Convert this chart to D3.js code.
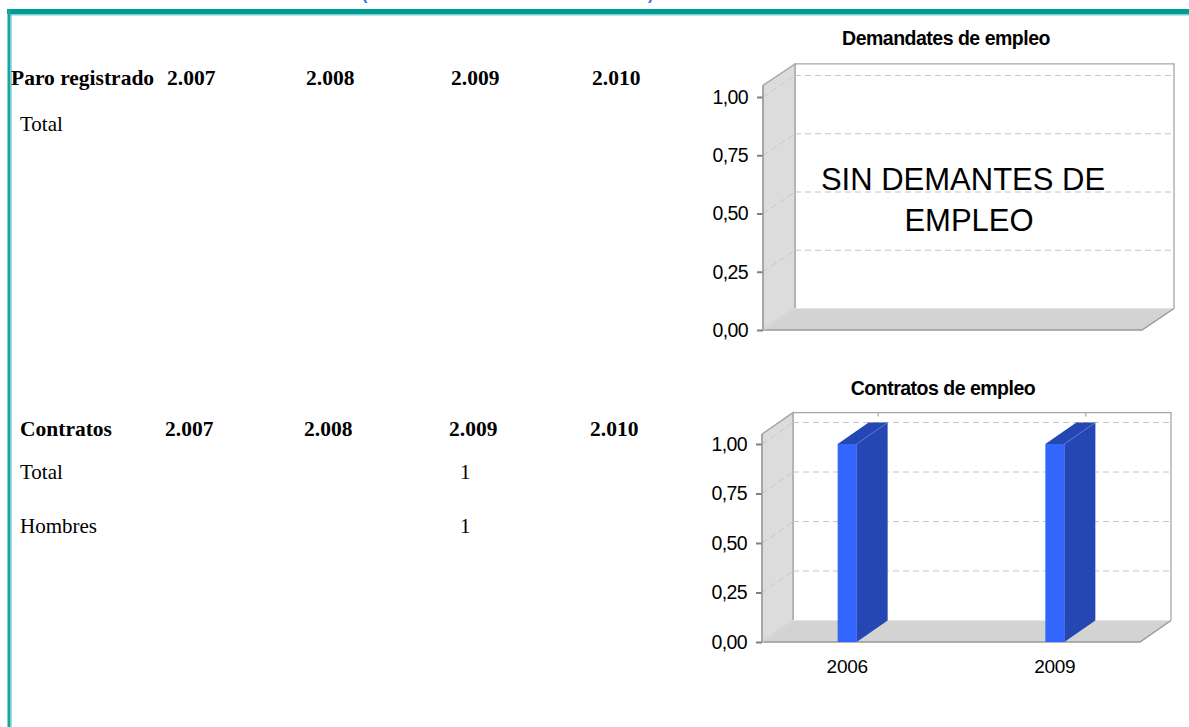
<!DOCTYPE html>
<html>
<head>
<meta charset="utf-8">
<script src="https://cdn.jsdelivr.net/npm/d3@7/dist/d3.min.js"></script>
<style>
  html, body { margin: 0; padding: 0; background: #fff; }
  svg { display: block; }
  .serif { font-family: "Liberation Serif", "Times New Roman", serif; }
  .sans { font-family: "Liberation Sans", Arial, sans-serif; }
</style>
</head>
<body>
<svg id="page" width="1189" height="727"></svg>
<script>
// ---------------- DATA ----------------
const paroHeader = ["Paro registrado", "2.007", "2.008", "2.009", "2.010"];
const paroRowLabels = ["Total"];
const paroRowValues = [["", "", "", ""]];

const contratosHeader = ["Contratos", "2.007", "2.008", "2.009", "2.010"];
const contratosRowLabels = ["Total", "Hombres"];
const contratosRowValues = [["", "", "1", ""], ["", "", "1", ""]];

const demandTitle = "Demandates de empleo";
const demandCategories = [];
const demandValues = [];
const demandMessage = ["SIN DEMANTES DE", "EMPLEO"];

const contractTitle = "Contratos de empleo";
const contractCategories = ["2006", "2009"];
const contractValues = [1, 1];

const yTickValues = [0, 0.25, 0.5, 0.75, 1];

// ---------------- PAGE ----------------
const svg = d3.select("#page");
svg.append("rect").attr("width", 1189).attr("height", 727).attr("fill", "#fff");

// cut-off blue heading parentheses at the very top (as in the reference)
svg.append("text").attr("class", "sans").attr("x", 362).attr("y", 0)
  .attr("font-size", 16).attr("font-weight", "bold").attr("fill", "#3a6cf0").text("(");
svg.append("text").attr("class", "sans").attr("x", 648).attr("y", 0)
  .attr("font-size", 16).attr("font-weight", "bold").attr("fill", "#3a6cf0").text(")");

// frame
svg.append("rect").attr("x", 7).attr("y", 9).attr("width", 1182).attr("height", 5).attr("fill", "#009b96");
svg.append("rect").attr("x", 10).attr("y", 14).attr("width", 1179).attr("height", 1.5).attr("fill", "#7fd1cd");
svg.append("rect").attr("x", 7.5).attr("y", 9).attr("width", 3).attr("height", 718).attr("fill", "#13a6a1");
svg.append("rect").attr("x", 10.5).attr("y", 14).attr("width", 1.2).attr("height", 713).attr("fill", "#6fcbc7");

// ---------------- TABLES ----------------
const colX = [167, 306, 451, 592];
function drawTable(header, labels, values, cfg) {
  const g = svg.append("g").attr("class", "serif");
  g.append("text").attr("x", cfg.headX).attr("y", cfg.headY)
    .attr("font-size", 21.5).attr("font-weight", "bold").text(header[0]);
  header.slice(1).forEach((h, i) => {
    g.append("text").attr("x", colX[i] + (cfg.colShift || 0)).attr("y", cfg.headY)
      .attr("font-size", 21.5).attr("font-weight", "bold").text(h);
  });
  labels.forEach((lab, r) => {
    const yy = cfg.rowY[r];
    g.append("text").attr("x", 20).attr("y", yy).attr("font-size", 21).text(lab);
    values[r].forEach((v, c) => {
      if (v !== "") g.append("text").attr("x", colX[c] + 9).attr("y", yy).attr("font-size", 21).text(v);
    });
  });
}
drawTable(paroHeader, paroRowLabels, paroRowValues, { headX: 11, headY: 85, rowY: [131] });
drawTable(contratosHeader, contratosRowLabels, contratosRowValues, { headX: 20, headY: 436, rowY: [479, 533], colShift: -2 });

// ---------------- 3D CHARTS ----------------
const fmt = v => d3.format(".2f")(v).replace(".", ",");
const gridColor = "#c6c6c6";
const edgeColor = "#a6a6a6";

function chart3d(cfg) {
  const { x0, x1, yBase, yOne, dx, dy, ymax } = cfg;
  const y = d3.scaleLinear().domain([0, 1]).range([yBase, yOne]);
  const yTop = y(ymax);
  const g = svg.append("g");
  const poly = pts => "M" + pts.map(p => p.join(",")).join("L") + "Z";

  // back wall
  g.append("rect").attr("x", x0 + dx).attr("y", yTop - dy).attr("width", x1 - x0).attr("height", yBase - yTop)
    .attr("fill", "#fff");
  g.append("path").attr("d", `M${x0 + dx},${yBase - dy}L${x0 + dx},${yTop - dy}L${x1 + dx},${yTop - dy}L${x1 + dx},${yBase - dy}`)
    .attr("fill", "none").attr("stroke", edgeColor).attr("stroke-width", 1.3);
  // left wall
  g.append("path").attr("d", poly([[x0, yBase], [x0, yTop], [x0 + dx, yTop - dy], [x0 + dx, yBase - dy]]))
    .attr("fill", "#dcdcdc").attr("stroke", edgeColor).attr("stroke-width", 1.3);
  // floor
  g.append("path").attr("d", poly([[x0, yBase], [x0 + dx, yBase - dy], [x1 + dx, yBase - dy], [x1, yBase]]))
    .attr("fill", "#d3d3d3").attr("stroke", "none");
  g.append("path").attr("d", `M${x0},${yBase}L${x1},${yBase}L${x1 + dx},${yBase - dy}`)
    .attr("fill", "none").attr("stroke", "#9a9a9a").attr("stroke-width", 1.5);
  g.append("line").attr("x1", x0).attr("y1", yBase).attr("x2", x0 + dx).attr("y2", yBase - dy)
    .attr("stroke", "#e4e4e4").attr("stroke-width", 1);

  // gridlines
  yTickValues.forEach(t => {
    const yy = y(t);
    if (t > 0) {
      g.append("line").attr("x1", x0 + dx).attr("x2", x1 + dx).attr("y1", yy - dy).attr("y2", yy - dy)
        .attr("stroke", gridColor).attr("stroke-dasharray", "6,4");
      g.append("line").attr("x1", x0).attr("x2", x0 + dx).attr("y1", yy).attr("y2", yy - dy)
        .attr("stroke", gridColor).attr("stroke-dasharray", "6,4");
    } else {
      g.append("line").attr("x1", x0 + dx).attr("x2", x1 + dx).attr("y1", yy - dy).attr("y2", yy - dy)
        .attr("stroke", "#e6e6e6").attr("stroke-dasharray", "6,4");
    }
  });

  // category scale
  const xs = d3.scalePoint().domain(cfg.categories).range([x0, x1]).padding(0.41);
  const bw = 19;

  // category ticks on top of back wall
  cfg.categories.forEach(c => {
    g.append("line").attr("x1", xs(c) + dx).attr("x2", xs(c) + dx).attr("y1", yTop - dy).attr("y2", yTop - dy + 4)
      .attr("stroke", edgeColor).attr("stroke-width", 1.2);
  });

  // bars
  cfg.categories.forEach((c, i) => {
    const v = cfg.values[i];
    const xl = xs(c) - bw / 2, xr = xs(c) + bw / 2;
    const yv = y(v), y0 = y(0);
    g.append("path").attr("d", poly([[xr, yv], [xr + dx, yv - dy], [xr + dx, y0 - dy], [xr, y0]]))
      .attr("fill", "#2447b3");
    g.append("path").attr("d", poly([[xl, yv], [xl + dx, yv - dy], [xr + dx, yv - dy], [xr, yv]]))
      .attr("fill", "#2447b3");
    g.append("line").attr("x1", xr).attr("y1", yv).attr("x2", xr + dx).attr("y2", yv - dy)
      .attr("stroke", "#5a78d6").attr("stroke-width", 0.8);
    g.append("rect").attr("x", xl).attr("y", yv).attr("width", bw).attr("height", y0 - yv)
      .attr("fill", "#3366ff");
    g.append("line").attr("x1", xr).attr("y1", yv).attr("x2", xr).attr("y2", y0)
      .attr("stroke", "#4a6ae0").attr("stroke-width", 0.8);
  });

  // x labels
  cfg.categories.forEach(c => {
    g.append("text").attr("class", "sans").attr("x", xs(c)).attr("y", yBase + 31)
      .attr("text-anchor", "middle").attr("font-size", 19).attr("letter-spacing", -0.3).text(c);
  });

  // y axis
  const ax = g.append("g").attr("transform", `translate(${x0},0)`)
    .call(d3.axisLeft(y).tickValues(yTickValues).tickSize(6).tickPadding(9).tickFormat(fmt));
  ax.select(".domain").remove();
  ax.selectAll(".tick line").attr("stroke", "#808080").attr("stroke-width", 2);
  ax.selectAll(".tick text").attr("font-family", '"Liberation Sans", Arial, sans-serif')
    .attr("font-size", 19.5).attr("letter-spacing", -0.6).attr("fill", "#000");
  g.append("line").attr("x1", x0).attr("x2", x0).attr("y1", yBase).attr("y2", yTop)
    .attr("stroke", "#9a9a9a").attr("stroke-width", 1.3);

  // title
  g.append("text").attr("class", "sans").attr("x", cfg.titleX).attr("y", cfg.titleY)
    .attr("text-anchor", "middle").attr("font-size", 19.5).attr("font-weight", "bold")
    .attr("letter-spacing", -0.5).text(cfg.title);

  // message
  if (cfg.message) {
    cfg.message.forEach((m, i) => {
      g.append("text").attr("class", "sans").attr("x", cfg.messageX[i]).attr("y", cfg.messageY[i])
        .attr("text-anchor", "middle").attr("font-size", 31).text(m);
    });
  }
  return g;
}

chart3d({
  x0: 763, x1: 1142, yBase: 330, yOne: 97, dx: 32, dy: 21.5, ymax: 1.05,
  categories: demandCategories, values: demandValues,
  title: demandTitle, titleX: 946, titleY: 45,
  message: demandMessage, messageX: [963, 969], messageY: [190, 231]
});

chart3d({
  x0: 762, x1: 1140, yBase: 642, yOne: 444, dx: 31, dy: 21.5, ymax: 1.05,
  categories: contractCategories, values: contractValues,
  title: contractTitle, titleX: 943, titleY: 395
});
</script>
</body>
</html>
